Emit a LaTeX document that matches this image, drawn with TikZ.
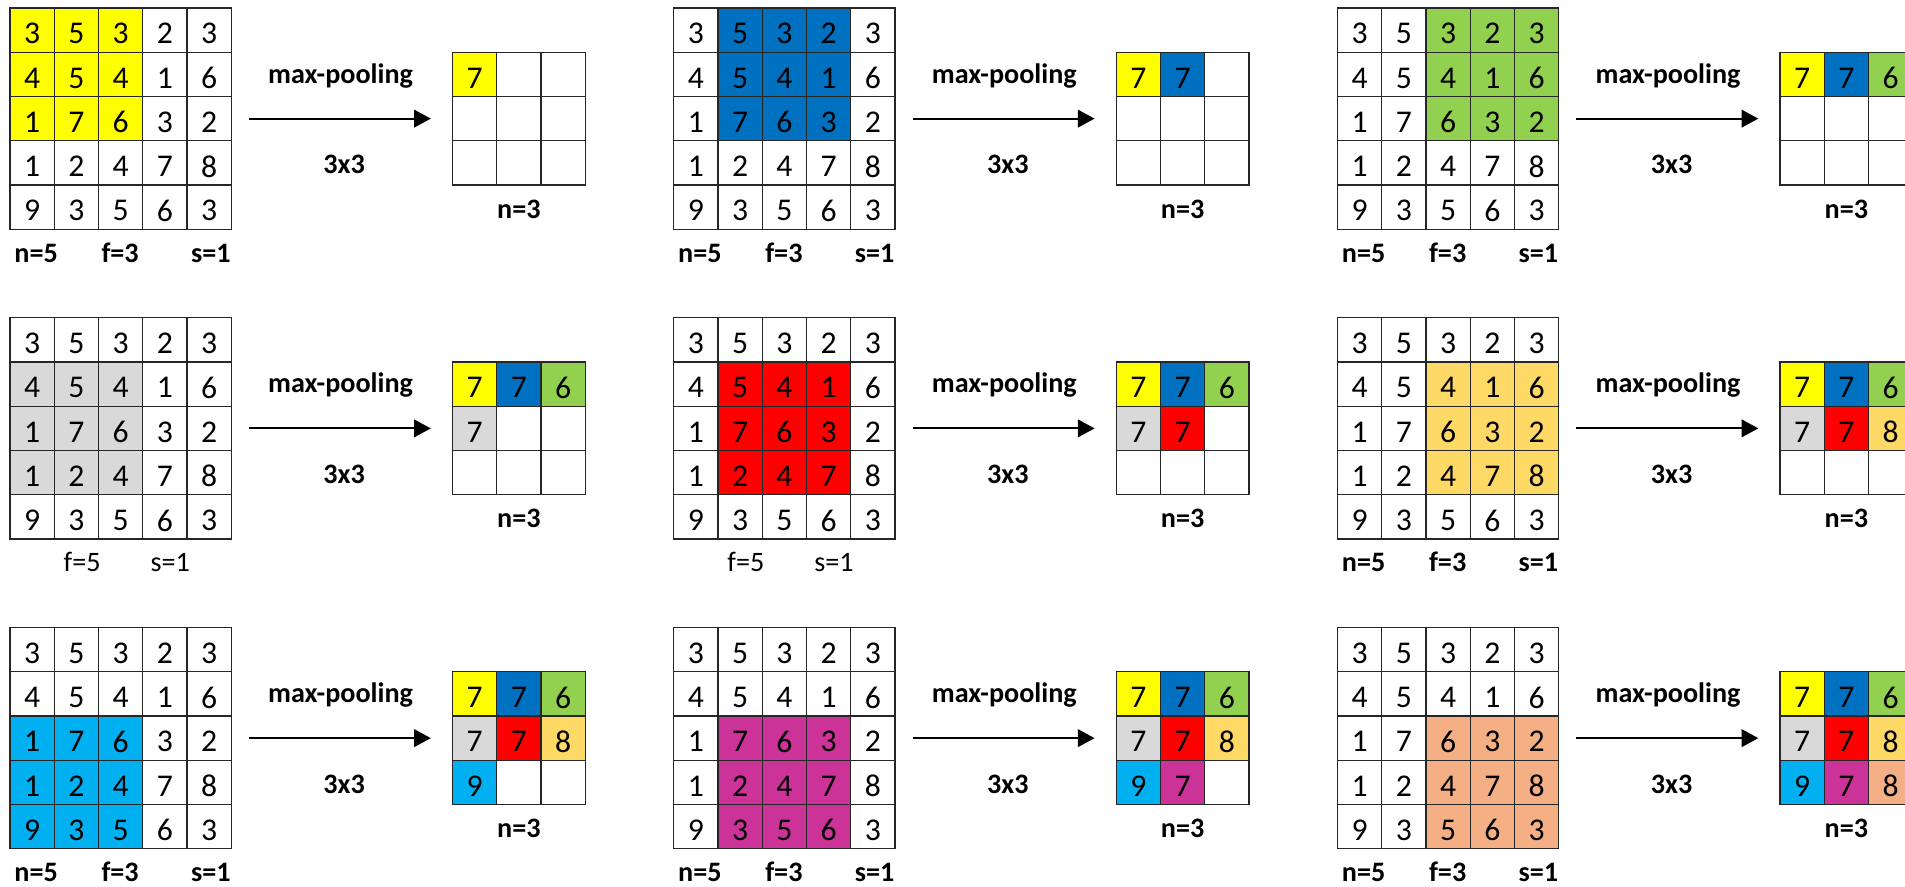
\documentclass[tikz,border=0pt]{standalone}
\usepackage{fontspec}
\setmainfont{Carlito}
\usetikzlibrary{arrows.meta}
\definecolor{winyellow}{HTML}{FFFF00}
\definecolor{winblue}{HTML}{0070C0}
\definecolor{wingreen}{HTML}{92D050}
\definecolor{wingray}{HTML}{D9D9D9}
\definecolor{winred}{HTML}{FF0000}
\definecolor{winorange}{HTML}{FFD966}
\definecolor{wincyan}{HTML}{00B0F0}
\definecolor{winpink}{HTML}{CC3399}
\definecolor{winsalmon}{HTML}{F4B084}
% digits sit a little below the middle of their cell
\newcommand\lowdigit[1]{\raisebox{-2pt}[\height][0pt]{#1}}
\tikzset{
	cell/.style={draw=black!85, line width=0.6pt, minimum size=0.884cm, inner sep=0pt, font=\fontsize{18}{21}\selectfont},
	bold label/.style={anchor=base, inner sep=0pt, font=\fontsize{16}{19}\selectfont\bfseries},
	plain label/.style={anchor=base, inner sep=0pt, font=\fontsize{16}{19}\selectfont},
	pool arrow/.style={line width=1.1pt, -{Triangle[length=9.5pt, width=10pt]}}
}
\begin{document}
\begin{tikzpicture}[x=0.884cm, y=0.884cm]
	% Page frame:
	\useasboundingbox (-0.226, 0.181) rectangle (42.825, -19.842);
	\clip (-0.226, 0.181) rectangle (42.825, -19.842);
	% Panels: window row, window column, colour, kind of labels
	\foreach \wr/\wc/\wcol/\lk [count=\k from 0] in {0/0/winyellow/1, 0/1/winblue/1, 0/2/wingreen/1, 1/0/wingray/0, 1/1/winred/0, 1/2/winorange/1, 2/0/wincyan/1, 2/1/winpink/1, 2/2/winsalmon/1} {
		\pgfmathsetmacro\ox{15*\wc}
		\pgfmathsetmacro\oy{-7*\wr}
		% Input grid:
		\foreach \vals [count=\r from 0] in {{3,5,3,2,3},{4,5,4,1,6},{1,7,6,3,2},{1,2,4,7,8},{9,3,5,6,3}} {
			\foreach \v [count=\c from 0] in \vals {
				\pgfmathtruncatemacro\inwin{and(and(\r>\wr-1, \r<\wr+3), and(\c>\wc-1, \c<\wc+3))}
				\ifnum\inwin=1 \def\fc{\wcol}\else\def\fc{white}\fi
				\node[cell, fill=\fc] (in-\k-\r-\c) at (\ox+\c+0.5, \oy-\r-0.5) {\lowdigit{\v}};
			}
		}
		% Output grid:
		\foreach \r in {0,1,2} {
			\foreach \c in {0,1,2} {
				\pgfmathtruncatemacro\m{3*\r+\c}
				\ifnum\m>\k
					\node[cell, fill=white] (out-\k-\r-\c) at (\ox+10.5+\c, \oy-1.5-\r) {};
				\else
					\pgfmathsetmacro\ocol{{"winyellow","winblue","wingreen","wingray","winred","winorange","wincyan","winpink","winsalmon"}[\m]}
					\pgfmathtruncatemacro\oval{{7,7,6,7,7,8,9,7,8}[\m]}
					\node[cell, fill=\ocol] (out-\k-\r-\c) at (\ox+10.5+\c, \oy-1.5-\r) {\lowdigit{\oval}};
				\fi
			}
		}
		% Arrow and labels:
		\coordinate (as-\k) at (\ox+5.4, \oy-2.5);
		\coordinate (ae-\k) at (\ox+9.51, \oy-2.5);
		\draw[pool arrow] (as-\k) -- (ae-\k);
		\node[bold label] (mp-\k) at (\ox+7.47, \oy-1.70) {max-pooling};
		\node[bold label] (ks-\k) at (\ox+7.55, \oy-3.75) {3x3};
		\node[bold label] (on-\k) at (\ox+11.5, \oy-4.75) {n=3};
		\ifnum\lk=1
			\node[bold label] (ln-\k) at (\ox+0.59, \oy-5.74) {n=5};
			\node[bold label] (lf-\k) at (\ox+2.49, \oy-5.74) {f=3};
			\node[bold label] (ls-\k) at (\ox+4.54, \oy-5.74) {s=1};
		\else
			\node[plain label] (lf-\k) at (\ox+1.63, \oy-5.74) {f=5};
			\node[plain label] (ls-\k) at (\ox+3.62, \oy-5.74) {s=1};
		\fi
	}
\end{tikzpicture}
\end{document}
